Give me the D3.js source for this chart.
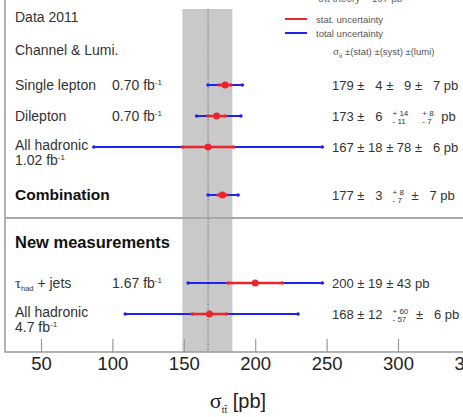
<!DOCTYPE html>
<html>
<head>
<meta charset="utf-8">
<script src="https://cdn.jsdelivr.net/npm/d3@7"></script>
<style>
body{margin:0;background:#fff;}
svg{display:block;font-family:"Liberation Sans",Arial,sans-serif;}
</style>
</head>
<body>
<div id="chart"></div>
<script>
var channels = ["Single lepton", "Dilepton", "All hadronic", "Combination", "τ", "All hadronic"];
var lumis    = ["0.70", "0.70", "1.02", "", "1.67", "4.7"];
var central  = [179, 173, 167, 177, 200, 168];
var stat     = [4, 6, 18, 3, 19, 12];
var systUp   = [9, 14, 78, 8, 43, 60];
var systDn   = [9, 11, 78, 7, 43, 57];
var lumiUp   = [7, 8, 6, 7, null, 6];
var lumiDn   = [7, 7, 6, 7, null, 6];
var totUp    = [12, 17, 80, 11, 47, 62];
var totDn    = [12, 14, 80, 10, 47, 59];
var theory   = 167, theoryUp = 17, theoryDn = 18;
var xTicks   = [50, 100, 150, 200, 250, 300, 350];

var W = 463, H = 417;
var axisY = 352, frameX = 5;
var rowY = [85, 116, 147, 195, 283, 314];   // layout only

var svg = d3.select("#chart").append("svg")
    .attr("width", W).attr("height", H);

var x = d3.scaleLinear().domain([50, 300]).range([41, 398]);

// theory band + dotted central line
svg.append("rect")
    .attr("x", x(theory - theoryDn)).attr("y", 9)
    .attr("width", x(theory + theoryUp) - x(theory - theoryDn))
    .attr("height", axisY - 9)
    .attr("fill", "#c9c9c9");
svg.append("line")
    .attr("x1", x(theory)).attr("x2", x(theory))
    .attr("y1", 9).attr("y2", axisY)
    .attr("stroke", "#555").attr("stroke-width", 1)
    .attr("stroke-dasharray", "1,1.5");

// frame
svg.append("path")
    .attr("d", "M" + frameX + ",0V" + axisY + "H" + W)
    .attr("fill", "none").attr("stroke", "#9a9a9a").attr("stroke-width", 1.5);
svg.append("line")
    .attr("x1", frameX).attr("x2", W).attr("y1", 218).attr("y2", 218)
    .attr("stroke", "#a8a8a8").attr("stroke-width", 2);

// axis
var xAxis = d3.axisBottom(x).tickValues(xTicks).tickSizeInner(-13).tickSizeOuter(0).tickPadding(5);
var gX = svg.append("g").attr("transform", "translate(0," + axisY + ")").call(xAxis);
gX.select(".domain").remove();
gX.selectAll(".tick line").attr("stroke", "#999").attr("stroke-width", 1.2);
gX.selectAll(".tick text").attr("fill", "#222").style("font-size", "18.5px")
    .style("font-family", "'Liberation Sans',Arial,sans-serif");

var title = svg.append("text").attr("x", 238).attr("y", 408)
    .attr("text-anchor", "middle").attr("fill", "#222").style("font-size", "20px");
title.append("tspan").style("font-family", "'Liberation Serif',serif").style("font-size", "22px").text("σ");
title.append("tspan").attr("dy", 5).style("font-size", "10px")
    .style("font-family", "'Liberation Serif',serif").text("tt̄");
title.append("tspan").attr("dy", -5).text(" [pb]");

// header texts
svg.append("text").attr("x", 15).attr("y", 22).attr("fill", "#333")
    .style("font-size", "14px").text("Data 2011");
svg.append("text").attr("x", 15).attr("y", 55).attr("fill", "#333")
    .style("font-size", "14px").text("Channel & Lumi.");
svg.append("text").attr("x", 318).attr("y", 2).attr("fill", "#666")
    .style("font-size", "10px").text("σtt̄ theory = 167 pb");

// legend
var legend = [{c: "#e8262b", t: "stat. uncertainty", y: 19}, {c: "#1f22f0", t: "total uncertainty", y: 33}];
legend.forEach(function(l){
    svg.append("line").attr("x1", 285).attr("x2", 307).attr("y1", l.y).attr("y2", l.y)
        .attr("stroke", l.c).attr("stroke-width", 2);
    svg.append("text").attr("x", 316).attr("y", l.y + 3.5).attr("fill", "#555")
        .style("font-size", "9.5px").text(l.t);
});
var lt = svg.append("text").attr("x", 333).attr("y", 55).attr("fill", "#555").style("font-size", "9.5px");
lt.append("tspan").style("font-family", "'Liberation Serif',serif").style("font-size", "11px").text("σ");
lt.append("tspan").attr("dy", 3).style("font-size", "6px").text("tt̄");
lt.append("tspan").attr("dy", -3).text(" ±(stat) ±(syst) ±(lumi)");

// section title
svg.append("text").attr("x", 15).attr("y", 248).attr("fill", "#111")
    .style("font-size", "16.5px").style("font-weight", "bold").text("New measurements");

// row labels
channels.forEach(function(name, i){
    var y = rowY[i];
    var twoLine = (name === "All hadronic");
    var t = svg.append("text").attr("x", 15).attr("y", (twoLine ? y - 2 : y) + 5)
        .attr("fill", i === 3 ? "#111" : "#333")
        .style("font-size", i === 3 ? "15.5px" : "14px")
        .style("font-weight", i === 3 ? "bold" : "normal");
    if (name === "τ") {
        t.append("tspan").style("font-family", "'Liberation Serif',serif").style("font-size", "15px").text("τ");
        t.append("tspan").attr("dy", 3).style("font-size", "7.5px").text("had");
        t.append("tspan").attr("dy", -3).text(" + jets");
    } else {
        t.text(name);
    }
    if (lumis[i] === "") return;
    var lx = twoLine ? 15 : 112, ly = twoLine ? y + 18 : y + 5;
    var lu = svg.append("text").attr("x", lx).attr("y", ly).attr("fill", "#333").style("font-size", "14px");
    lu.append("tspan").text(lumis[i] + " fb");
    lu.append("tspan").attr("dy", -5).style("font-size", "8px").text("-1");
});

// error bars
var rows = d3.range(central.length);
var gBars = svg.append("g");
rows.forEach(function(i){
    var y = rowY[i];
    var bx1 = x(central[i] - totDn[i]), bx2 = x(central[i] + totUp[i]);
    var rx1 = x(central[i] - stat[i]), rx2 = x(central[i] + stat[i]);
    gBars.append("line").attr("x1", bx1).attr("x2", bx2).attr("y1", y).attr("y2", y)
        .attr("stroke", "#1f22f0").attr("stroke-width", 2);
    [bx1, bx2].forEach(function(px){
        gBars.append("circle").attr("cx", px).attr("cy", y).attr("r", 1.8).attr("fill", "#1f22f0");
    });
    gBars.append("line").attr("x1", rx1).attr("x2", rx2).attr("y1", y).attr("y2", y)
        .attr("stroke", "#e8262b").attr("stroke-width", 2.5);
    [rx1, rx2].forEach(function(px){
        gBars.append("circle").attr("cx", px).attr("cy", y).attr("r", 1.8).attr("fill", "#e8262b");
    });
    gBars.append("circle").attr("cx", x(central[i])).attr("cy", y).attr("r", 3.5).attr("fill", "#e8262b");
});

// value strings
function pad(v){ return (v < 10 ? "\u2007" : "") + v; }
rows.forEach(function(i){
    var y = rowY[i] + 4.5;
    var cx = 332;
    function put(str){
        var t = svg.append("text").attr("x", cx).attr("y", y).attr("fill", "#333")
            .style("font-size", "13px").style("white-space", "pre").text(str);
        cx += t.node().getComputedTextLength();
    }
    function stack(up, dn){
        var a = svg.append("text").attr("x", cx).attr("y", y - 5).attr("fill", "#333")
            .style("font-size", "8px").style("white-space", "pre").text("+ " + up);
        var b = svg.append("text").attr("x", cx).attr("y", y + 3).attr("fill", "#333")
            .style("font-size", "8px").style("white-space", "pre").text("- " + dn);
        cx += Math.max(a.node().getComputedTextLength(), b.node().getComputedTextLength()) + 4;
    }
    put(central[i] + " ± " + pad(stat[i]));
    if (systUp[i] === systDn[i]) put(" ± " + pad(systUp[i])); else { cx += 10; stack(systUp[i], systDn[i]); }
    if (lumiUp[i] !== null) {
        if (lumiUp[i] === lumiDn[i]) put(" ± " + pad(lumiUp[i])); else { cx += 10; stack(lumiUp[i], lumiDn[i]); }
    }
    put(" pb");
});
</script>
</body>
</html>
